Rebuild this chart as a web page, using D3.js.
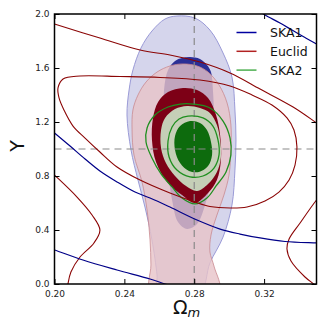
<!DOCTYPE html>
<html>
<head>
<meta charset="utf-8">
<script src="https://cdn.jsdelivr.net/npm/d3@7"></script>
<style>
  html, body { margin: 0; padding: 0; background: #fff; }
  svg { display: block; font-family: 'DejaVu Sans', sans-serif; }
</style>
</head>
<body>
<div id="chart"></div>
<script>
// ---- data: contour points as [Omega_m, Y] ----
const xTicks = [0.20, 0.24, 0.28, 0.32];
const yTicks = [0.0, 0.4, 0.8, 1.2, 1.6, 2.0];
const fiducialOm = 0.28;
const fiducialY = 1.0;
const legendLabels = ['SKA1', 'Euclid', 'SKA2'];

// SKA1 filled regions
const ska1Outer = [
  [0.2701, 1.985], [0.2804, 1.970], [0.2890, 1.881], [0.2965, 1.711], [0.3016, 1.533],
  [0.3033, 1.289], [0.3039, 1.067], [0.3033, 0.844], [0.3016, 0.585], [0.2965, 0.348],
  [0.2890, 0.156], [0.2833, -0.059], [0.2593, -0.059], [0.2587, 0.067], [0.2558, 0.326],
  [0.2518, 0.570], [0.2478, 0.770], [0.2438, 0.993], [0.2415, 1.252], [0.2427, 1.437],
  [0.2449, 1.585], [0.2495, 1.748], [0.2558, 1.874], [0.2633, 1.963]
];
const ska1Inner = [
  [0.2776, 1.681], [0.2833, 1.667], [0.2873, 1.622], [0.2896, 1.570], [0.2907, 1.437],
  [0.2913, 1.215], [0.2907, 0.993], [0.2896, 0.770], [0.2862, 0.585], [0.2816, 0.444],
  [0.2759, 0.407], [0.2707, 0.459], [0.2673, 0.622], [0.2656, 0.770], [0.2638, 0.993],
  [0.2627, 1.215], [0.2627, 1.437], [0.2650, 1.585], [0.2690, 1.652], [0.2730, 1.674]
];

// Euclid filled regions
const euclidOuter = [
  [0.2736, 1.630], [0.2816, 1.615], [0.2879, 1.570], [0.2942, 1.474], [0.2988, 1.341],
  [0.3010, 1.178], [0.3010, 0.993], [0.2999, 0.807], [0.2970, 0.659], [0.2930, 0.511],
  [0.2896, 0.363], [0.2890, 0.237], [0.2913, 0.133], [0.2942, -0.059], [0.2552, -0.059],
  [0.2552, 0.141], [0.2547, 0.326], [0.2530, 0.548], [0.2501, 0.756], [0.2455, 0.956],
  [0.2444, 1.141], [0.2449, 1.289], [0.2478, 1.400], [0.2524, 1.496], [0.2587, 1.570],
  [0.2661, 1.615]
];
const euclidInner = [
  [0.2736, 1.452], [0.2816, 1.437], [0.2879, 1.378], [0.2925, 1.252], [0.2948, 1.104],
  [0.2953, 0.919], [0.2930, 0.770], [0.2879, 0.674], [0.2804, 0.600], [0.2730, 0.659],
  [0.2644, 0.756], [0.2581, 0.904], [0.2558, 1.067], [0.2564, 1.230], [0.2593, 1.348],
  [0.2650, 1.422]
];

// SKA2 filled regions and outlines
const ska2Outer = [
  [0.2759, 1.319], [0.2833, 1.304], [0.2890, 1.267], [0.2930, 1.178], [0.2948, 1.067],
  [0.2953, 0.941], [0.2930, 0.830], [0.2879, 0.741], [0.2816, 0.689], [0.2753, 0.726],
  [0.2690, 0.800], [0.2638, 0.896], [0.2610, 1.007], [0.2610, 1.141], [0.2633, 1.230],
  [0.2690, 1.296]
];
const ska2Inner = [
  [0.2776, 1.207], [0.2833, 1.193], [0.2873, 1.141], [0.2896, 1.052], [0.2902, 0.956],
  [0.2879, 0.874], [0.2827, 0.830], [0.2770, 0.837], [0.2719, 0.896], [0.2690, 0.993],
  [0.2690, 1.096], [0.2719, 1.170]
];
const ska2RingInner = [
  [0.2764, 1.244], [0.2850, 1.230], [0.2907, 1.170], [0.2936, 1.067], [0.2942, 0.956],
  [0.2913, 0.859], [0.2850, 0.800], [0.2776, 0.793], [0.2701, 0.844], [0.2656, 0.941],
  [0.2650, 1.059], [0.2673, 1.163], [0.2713, 1.222]
];
const ska2RingOuter = [
  [0.2793, 1.333], [0.2890, 1.304], [0.2965, 1.207], [0.3005, 1.081], [0.3010, 0.956],
  [0.2982, 0.830], [0.2925, 0.726], [0.2873, 0.637], [0.2804, 0.593], [0.2730, 0.637],
  [0.2673, 0.719], [0.2610, 0.815], [0.2558, 0.933], [0.2524, 1.052], [0.2530, 1.156],
  [0.2575, 1.252], [0.2650, 1.311], [0.2719, 1.333]
];

// Euclid contour lines (wide ones)
const euclidLineTop = [
  [0.1946, 1.948], [0.2000, 1.926], [0.2260, 1.822], [0.2490, 1.733], [0.2661, 1.696],
  [0.2833, 1.644], [0.3005, 1.563], [0.3177, 1.444], [0.3366, 1.311], [0.3500, 1.193],
  [0.3549, 1.148]
];
const euclidLineLeft = [
  [0.1963, 0.852], [0.2000, 0.807], [0.2129, 0.644], [0.2215, 0.511], [0.2260, 0.400],
  [0.2226, 0.304], [0.2146, 0.200], [0.2094, 0.089], [0.2077, 0.000], [0.2072, -0.059]
];
const euclidLineRight = [
  [0.3549, 0.696], [0.3500, 0.622], [0.3406, 0.452], [0.3343, 0.333], [0.3331, 0.259],
  [0.3354, 0.170], [0.3434, 0.052], [0.3491, -0.007], [0.3520, -0.044]
];
const euclidLoop = [
  [0.2020, 1.452], [0.2049, 1.519], [0.2146, 1.541], [0.2375, 1.537], [0.2604, 1.530],
  [0.2833, 1.511], [0.3005, 1.467], [0.3131, 1.400], [0.3245, 1.326], [0.3331, 1.230],
  [0.3371, 1.141], [0.3388, 1.015], [0.3377, 0.881], [0.3343, 0.770], [0.3285, 0.681],
  [0.3205, 0.615], [0.3102, 0.570], [0.3005, 0.563], [0.2890, 0.574], [0.2804, 0.607],
  [0.2661, 0.674], [0.2490, 0.770], [0.2358, 0.867], [0.2260, 0.978], [0.2175, 1.081],
  [0.2106, 1.170], [0.2054, 1.289], [0.2026, 1.378]
];

// SKA1 contour lines (wide ones)
const ska1LineMid = [
  [0.1951, 1.170], [0.2000, 1.119], [0.2089, 1.022], [0.2175, 0.926], [0.2260, 0.837],
  [0.2358, 0.756], [0.2461, 0.681], [0.2547, 0.637], [0.2661, 0.570], [0.2816, 0.474],
  [0.2948, 0.407], [0.3062, 0.370], [0.3177, 0.341], [0.3320, 0.315], [0.3500, 0.304],
  [0.3549, 0.301]
];
const ska1LineLow = [
  [0.1946, 0.274], [0.2000, 0.252], [0.2163, 0.178], [0.2358, 0.104], [0.2547, 0.037],
  [0.2633, 0.000], [0.2690, -0.022]
];
const ska1LineCorner = [
  [0.3148, 2.037], [0.3205, 1.993], [0.3291, 1.933], [0.3360, 1.881], [0.3434, 1.826],
  [0.3500, 1.778], [0.3549, 1.741]
];

// ---- chart ----
const width = 327;
const height = 330;
const plot = { left: 54.5, right: 316.5, top: 14, bottom: 284 };

const colors = {
  ska1Light: '#d5d5ec', ska1Edge: '#9a9ad6', ska1Dark: '#2b2f96', ska1Line: '#000088',
  euclidLight: '#e7c3c8', euclidEdge: '#c98a90', euclidDark: '#7d0016', euclidLine: '#8b0505',
  ska2Light: '#c5cfb7', ska2Dark: '#0d6b0d', ska2Line: '#1f8f1f'
};
const legendColors = ['#0000a0', '#b22222', '#4caf50'];

const x = d3.scaleLinear().domain([0.20, 0.35]).range([plot.left, plot.right]);
const y = d3.scaleLinear().domain([0, 2]).range([plot.bottom, plot.top]);

const closedLine = d3.line()
  .x(d => x(d[0]))
  .y(d => y(d[1]))
  .curve(d3.curveCatmullRomClosed.alpha(0.5));

const openLine = d3.line()
  .x(d => x(d[0]))
  .y(d => y(d[1]))
  .curve(d3.curveCatmullRom.alpha(0.5));

const svg = d3.select('#chart')
  .append('svg')
  .attr('width', width)
  .attr('height', height);

svg.append('defs')
  .append('clipPath')
  .attr('id', 'plot-clip')
  .append('rect')
  .attr('x', plot.left)
  .attr('y', plot.top)
  .attr('width', plot.right - plot.left)
  .attr('height', plot.bottom - plot.top);

const body = svg.append('g').attr('clip-path', 'url(#plot-clip)');

// filled regions, back to front
function region(points, fill, opts = {}) {
  body.append('path')
    .attr('d', closedLine(points))
    .attr('fill', fill)
    .attr('fill-opacity', opts.opacity ?? 1)
    .attr('stroke', opts.stroke || 'none')
    .attr('stroke-width', opts.strokeWidth || 1);
}

region(ska1Outer, colors.ska1Light, { stroke: colors.ska1Edge, strokeWidth: 1 });
region(ska1Inner, colors.ska1Dark);
region(euclidOuter, colors.euclidLight, { opacity: 0.8, stroke: colors.euclidEdge, strokeWidth: 0.8 });
region(euclidInner, colors.euclidDark);
region(ska2Outer, colors.ska2Light);
region(ska2Inner, colors.ska2Dark);

// fiducial cross
body.append('line')
  .attr('x1', x(fiducialOm)).attr('x2', x(fiducialOm))
  .attr('y1', plot.top).attr('y2', plot.bottom)
  .attr('stroke', '#8a8a8a').attr('stroke-width', 1.2)
  .attr('stroke-dasharray', '7,5');
body.append('line')
  .attr('x1', plot.left).attr('x2', plot.right)
  .attr('y1', y(fiducialY)).attr('y2', y(fiducialY))
  .attr('stroke', '#8a8a8a').attr('stroke-width', 1.2)
  .attr('stroke-dasharray', '7,5');

// contour lines
function contour(points, color, closed, w) {
  body.append('path')
    .attr('d', (closed ? closedLine : openLine)(points))
    .attr('fill', 'none')
    .attr('stroke', color)
    .attr('stroke-width', w);
}

contour(ska2RingOuter, colors.ska2Line, true, 1.3);
contour(ska2RingInner, colors.ska2Line, true, 1.3);

contour(euclidLineTop, colors.euclidLine, false, 1.1);
contour(euclidLineLeft, colors.euclidLine, false, 1.1);
contour(euclidLineRight, colors.euclidLine, false, 1.1);
contour(euclidLoop, colors.euclidLine, true, 1.1);

contour(ska1LineMid, colors.ska1Line, false, 1.2);
contour(ska1LineLow, colors.ska1Line, false, 1.2);
contour(ska1LineCorner, colors.ska1Line, false, 1.2);

// axes, ticks inside on all four sides
const tickLen = 5;

const xAxis = svg.append('g')
  .attr('transform', `translate(0,${plot.bottom})`)
  .call(d3.axisBottom(x).tickValues(xTicks).tickFormat(d3.format('.2f'))
    .tickSize(-tickLen).tickPadding(7));
const yAxis = svg.append('g')
  .attr('transform', `translate(${plot.left},0)`)
  .call(d3.axisLeft(y).tickValues(yTicks).tickFormat(d3.format('.1f'))
    .tickSize(-tickLen).tickPadding(5));
const topAxis = svg.append('g')
  .attr('transform', `translate(0,${plot.top})`)
  .call(d3.axisTop(x).tickValues(xTicks).tickFormat('').tickSize(-tickLen));
const rightAxis = svg.append('g')
  .attr('transform', `translate(${plot.right},0)`)
  .call(d3.axisRight(y).tickValues(yTicks).tickFormat('').tickSize(-tickLen));

[xAxis, yAxis, topAxis, rightAxis].forEach(g => {
  g.select('.domain').remove();
  g.selectAll('.tick line').attr('stroke', '#000').attr('stroke-width', 1);
  g.selectAll('.tick text')
    .attr('fill', '#222')
    .style('font-size', '9px')
    .style('font-family', "'DejaVu Sans', sans-serif");
});

svg.append('rect')
  .attr('x', plot.left)
  .attr('y', plot.top)
  .attr('width', plot.right - plot.left)
  .attr('height', plot.bottom - plot.top)
  .attr('fill', 'none')
  .attr('stroke', '#000')
  .attr('stroke-width', 1.5);

// axis labels
const xLabel = svg.append('text')
  .attr('x', (plot.left + plot.right) / 2 + 1)
  .attr('y', 313.5)
  .attr('text-anchor', 'middle')
  .style('font-size', '19px')
  .attr('fill', '#111');
xLabel.append('tspan').text('Ω');
xLabel.append('tspan')
  .attr('dy', 3)
  .style('font-size', '13px')
  .style('font-style', 'italic')
  .text('m');

svg.append('text')
  .attr('transform', 'translate(24,146) rotate(-90)')
  .attr('text-anchor', 'middle')
  .style('font-size', '19px')
  .attr('fill', '#111')
  .text('Y');

// legend
const legend = svg.append('g')
  .selectAll('.legend-item')
  .data(legendLabels)
  .join('g')
    .attr('class', 'legend-item')
    .attr('transform', (d, i) => `translate(236.5, ${32.5 + i * 18.8})`);

legend.append('line')
  .attr('x1', 0)
  .attr('x2', 20)
  .attr('stroke', (_, i) => legendColors[i])
  .attr('stroke-width', 1.5);

legend.append('text')
  .attr('x', 33.5)
  .attr('dy', '0.36em')
  .style('font-size', '12.5px')
  .attr('fill', '#111')
  .text(d => d);
</script>
</body>
</html>
